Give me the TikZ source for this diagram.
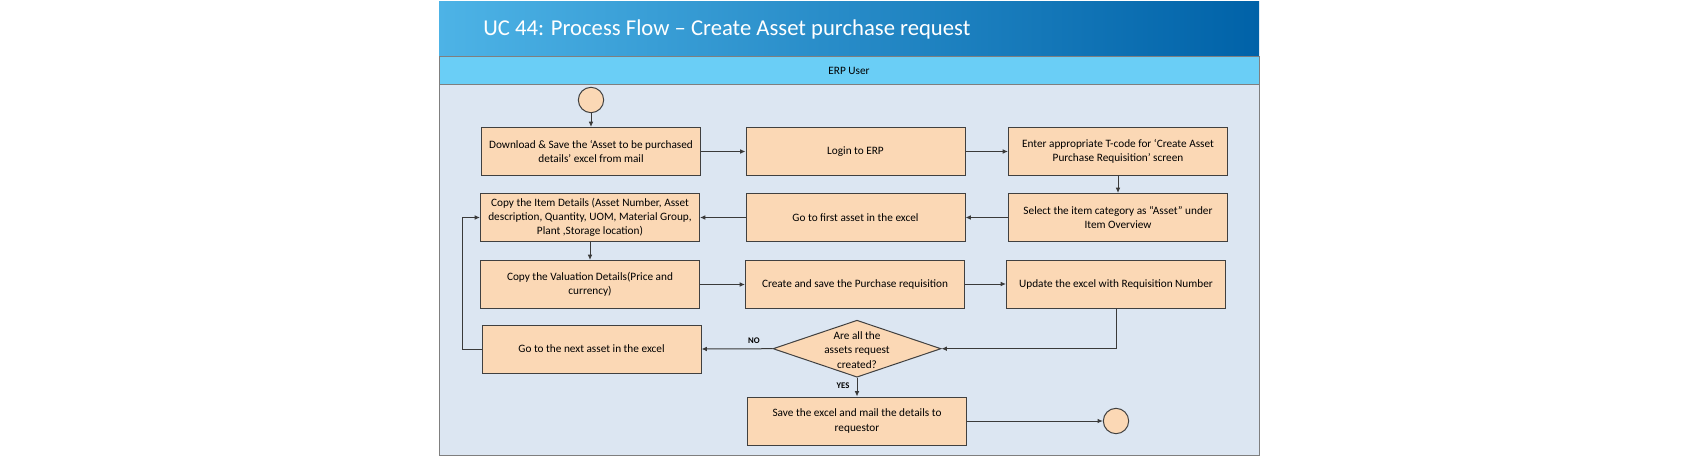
\documentclass[tikz,border=0pt]{standalone}
\usepackage{fontspec}
\setmainfont{Carlito}
\usetikzlibrary{shapes.geometric,arrows.meta}
\definecolor{peach}{HTML}{FBD8B5}
\definecolor{boxline}{HTML}{404040}
\definecolor{arrowline}{HTML}{3A3A3A}
\definecolor{framegray}{HTML}{7F7F7F}
\definecolor{hdrblue}{HTML}{6ACEF6}
\definecolor{bodyblue}{HTML}{DCE6F2}
\definecolor{titleL}{HTML}{4DB3E6}
\definecolor{titleR}{HTML}{0062A8}
\newcommand\boxfont{\fontsize{8.45}{10.6}\selectfont}
\newcommand\lblfont{\fontsize{6.5}{8}\selectfont\bfseries}
\begin{document}
\begin{tikzpicture}[x=0.75pt,y=-0.75pt,
  box/.style={draw=boxline, fill=peach, line width=0.75pt, minimum width=164.25pt, minimum height=36pt, align=center, font=\boxfont, inner sep=0pt},
  circ/.style={circle, draw=boxline, fill=peach, line width=0.75pt, minimum size=19pt, inner sep=0pt},
  dec/.style={diamond, draw=boxline, fill=peach, line width=0.75pt, minimum width=126pt, minimum height=42.75pt, inner sep=0pt},
  flow/.style={draw=arrowline, line width=0.75pt, -{Latex[length=4pt,width=3.5pt]}},
  lbl/.style={font=\lblfont, inner sep=0pt}
]
\useasboundingbox (0,0) rectangle (1702,460);
\fill[white] (0,0) rectangle (1702,460);
% frame
\shade[left color=titleL, right color=titleR] (439,2) rectangle (1259,56);
\draw[framegray, line width=0.75pt, fill=hdrblue] (439,57) rectangle (1259,84.5);
\draw[framegray, line width=0.75pt, fill=bodyblue] (439,84.5) rectangle (1259,455);
\node[anchor=base west, text=white, font=\fontsize{17}{20}\selectfont, inner sep=0pt] (title) at (483,35.7) {UC 44: Process Flow – Create Asset purchase request};
\node[font=\boxfont, inner sep=0pt] (hdr) at (849,71) {ERP User};
% nodes
\node[circ] (start) at (591,100) {};
\node[box] (dl) at (591,151.5) {Download \& Save the ‘Asset to be purchased\\details’ excel from mail};
\node[box] (login) at (855.5,151.5) {Login to ERP};
\node[box] (tcode) at (1118,151.5) {Enter appropriate T-code for ‘Create Asset\\Purchase Requisition’ screen};
\node[box] (copyitem) at (590,217.5) {Copy the Item Details (Asset Number, Asset\\description, Quantity, UOM, Material Group,\\Plant ,Storage location)};
\node[box] (first) at (855.5,217.5) {Go to first asset in the excel};
\node[box] (select) at (1118,217.5) {Select the item category as “Asset” under\\Item Overview};
\node[box] (copyval) at (590,284.5) {Copy the Valuation Details(Price and\\currency)};
\node[box] (create) at (855,284) {Create and save the Purchase requisition};
\node[box] (update) at (1116,284) {Update the excel with Requisition Number};
\node[box] (next) at (591.5,349) {Go to the next asset in the excel};
\node[dec, label={[align=center, font=\boxfont, yshift=-1pt]center:Are all the\\assets request\\created?}] (dec) at (857,348.7) {};
\node[box] (save) at (857,421) {Save the excel and mail the details to\\requestor};
\node[circ] (end) at (1116,421) {};
% connectors
\draw[flow] (start) -- (dl);
\draw[flow] (dl) -- (login);
\draw[flow] (login) -- (tcode);
\draw[flow] (tcode) -- (select);
\draw[flow] (select) -- (first);
\draw[flow] (first) -- (copyitem);
\draw[flow] (copyitem) -- (copyval);
\draw[flow] (copyval) -- (create.west |- copyval.east);
\draw[flow] (create) -- (update);
\draw[flow] (update.south) |- (dec.east);
\draw[flow] (dec.west) -- (next.east);
\node[lbl] (no) at (754,341) {NO};
\draw[flow] (next.west) -- ++(-19,0) |- (copyitem.west);
\draw[flow] (dec.south) -- (save.north);
\node[lbl] (yes) at (843,386) {YES};
\draw[flow] (save) -- (end);
\end{tikzpicture}
\end{document}
